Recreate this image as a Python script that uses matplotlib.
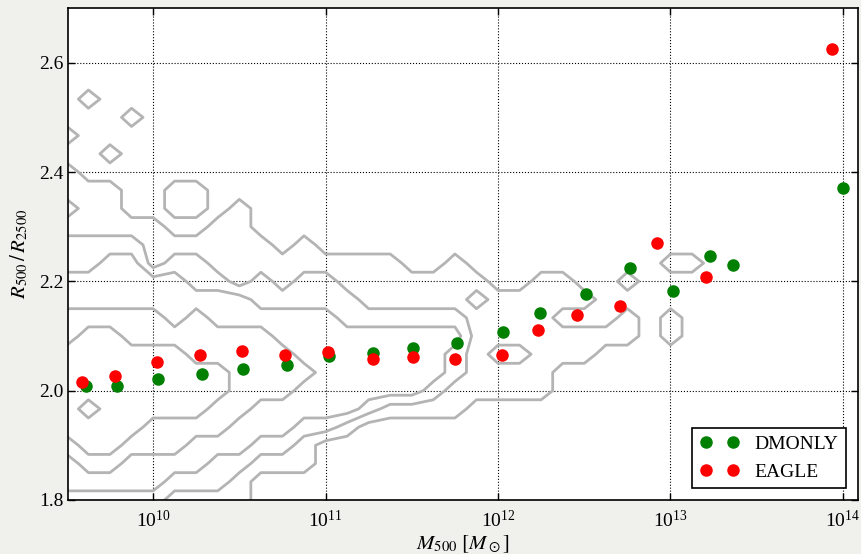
import numpy as np
import matplotlib
matplotlib.use('Agg')
import matplotlib.pyplot as plt
from matplotlib.ticker import FixedLocator, NullLocator

plt.rcParams['font.family'] = ['Liberation Serif', 'DejaVu Serif']
plt.rcParams['mathtext.fontset'] = 'stix'

# medianas por bin de masa (M500 en Msun, cociente R500/R2500)
m_dmonly = [4.09e9, 6.18e9, 1.069e10, 1.923e10, 3.327e10, 5.957e10, 1.052e11, 1.892e11,
            3.228e11, 5.768e11, 1.064e12, 1.750e12, 3.236e12, 5.821e12, 1.030e13,
            1.694e13, 2.312e13, 9.95e13]
r_dmonly = [2.008, 2.009, 2.022, 2.030, 2.040, 2.047, 2.063, 2.068, 2.078, 2.087, 2.108,
            2.142, 2.177, 2.224, 2.183, 2.247, 2.230, 2.370]
m_eagle = [3.88e9, 6.00e9, 1.059e10, 1.866e10, 3.281e10, 5.821e10, 1.038e11, 1.892e11,
           3.228e11, 5.636e11, 1.050e12, 1.698e12, 2.884e12, 5.093e12, 8.318e12,
           1.607e13, 8.590e13]
r_eagle = [2.015, 2.026, 2.052, 2.065, 2.072, 2.066, 2.070, 2.058, 2.062, 2.058, 2.065,
           2.111, 2.138, 2.154, 2.270, 2.208, 2.625]

# niveles de densidad de halos (contornos), una cadena por columna de log M
# columnas: log M = 9.375 ... 14.125 (paso 0.125)
# filas: R500/R2500 = 2.70 hacia abajo en pasos de 1/30
logm_min, logm_paso = 9.375, 0.125
r_max, r_paso = 2.70, 1.0 / 30
dens_cols = [
    "00000001011212233445555543322",
    "00000001011212233445555543322",
    "00000100001112233455556554322",
    "00000000101112333455555554322",
    "00000010000012333445555543321",
    "00000000000011133445555443321",
    "00000000001101233345555443211",
    "00000000001101223444555433211",
    "00000000000011123344554432211",
    "00000000000111113344444332110",
    "00000000000001122344443321000",
    "00000000000000112334443321000",
    "00000000000001122333433211000",
    "00000000000000122333333200000",
    "00000000000000112233333100000",
    "00000000000000111233332000000",
    "00000000000000111233331000000",
    "00000000000000011233331000000",
    "00000000000000011233321000000",
    "00000000000000111232211000000",
    "00000000000000012111110000000",
    "00000000000000001112110000000",
    "00000000000000001112110000000",
    "00000000000000011111110000000",
    "00000000000000011011000000000",
    "00000000000000001011000000000",
    "00000000000000000010000000000",
    "00000000000000010110000000000",
    "00000000000000000000000000000",
    "00000000000000100110000000000",
    "00000000000000100000000000000",
    "00000000000000000000000000000",
    "00000000000000000000000000000",
    "00000000000000000000000000000",
    "00000000000000000000000000000",
    "00000000000000000000000000000",
    "00000000000000000000000000000",
    "00000000000000000000000000000",
    "00000000000000000000000000000",
]

Z = np.array([[int(c) for c in s] for s in dens_cols]).T
logm = logm_min + logm_paso * np.arange(Z.shape[1])
rr = r_max - r_paso * np.arange(Z.shape[0])

fig = plt.figure(figsize=(8.61, 5.54), dpi=100, facecolor='#f0f0ec')
ax = fig.add_axes([0.079, 0.0975, 0.9175, 0.888])

ax.contour(10 ** logm, rr[::-1], Z[::-1], levels=[0.5, 1.5, 2.5, 3.5, 4.5, 5.5],
           colors='#b4b4b4', linewidths=2.0)

ax.plot(m_dmonly, r_dmonly, 'o', color='g', mec='g', ms=8, label='DMONLY')
ax.plot(m_eagle, r_eagle, 'o', color='r', mec='r', ms=8, label='EAGLE')

ax.set_xscale('log')
ax.set_xlim(10 ** 9.507, 10 ** 14.087)
ax.set_ylim(1.8, 2.7)
ax.xaxis.set_major_locator(FixedLocator([1e10, 1e11, 1e12, 1e13, 1e14]))
ax.xaxis.set_minor_locator(NullLocator())
ax.set_yticks([1.8, 2.0, 2.2, 2.4, 2.6])

ax.grid(True, linestyle=':', color='k', linewidth=0.8)
ax.tick_params(which='both', direction='in', top=True, right=True, length=5,
               labelsize=14, width=1)
ax.tick_params(axis='x', pad=7)
for s in ax.spines.values():
    s.set_linewidth(1.2)

ax.set_xlabel(r'$M_{500}\ [M_\odot]$', fontsize=15, labelpad=2)
ax.set_ylabel(r'$R_{500}\,/\,R_{2500}$', fontsize=15, labelpad=6)

leg = ax.legend(loc='lower right', numpoints=2, fontsize=14, fancybox=False,
                edgecolor='k', framealpha=1, borderaxespad=0.6, handletextpad=0.8)
leg.get_frame().set_linewidth(1.2)

fig.savefig('out.png', dpi=100, facecolor=fig.get_facecolor())
